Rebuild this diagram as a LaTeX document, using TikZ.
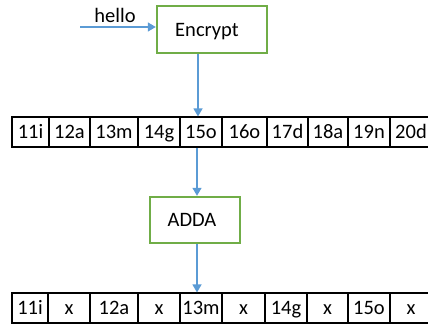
\documentclass[tikz,border=0pt]{standalone}
\usepackage{fontspec}
\setmainfont{Carlito}
\usetikzlibrary{arrows.meta,calc}
\definecolor{boxgreen}{RGB}{112,173,71}
\definecolor{arrblue}{RGB}{91,155,213}
\tikzset{
  procbox/.style={draw=boxgreen,line width=2.4pt,fill=white,inner sep=0pt,text height=13.2pt,text depth=0pt,font=\fontsize{20.5}{24}\selectfont},
  cell/.style={draw=black,line width=1.1pt,inner sep=0pt,text height=13.2pt,text depth=0pt,font=\fontsize{20.5}{24}\selectfont},
  flow/.style={draw=arrblue,line width=1.3pt,-{Triangle[width=9pt,length=8pt]}},
  lbl/.style={inner sep=0pt,font=\fontsize{20.5}{24}\selectfont}
}
\begin{document}
\begin{tikzpicture}[x=1pt,y=-1pt]
\useasboundingbox (0,0) rectangle (428,326);
\clip (0,0) rectangle (428,326);
% process boxes
\node[procbox,minimum width=110pt,minimum height=47pt] (enc) at (212,29.5) {\hspace*{-10pt}Encrypt};
\node[procbox,minimum width=90pt,minimum height=46pt] (adda) at (195,220) {\hspace*{-6pt}ADDA};
\node[lbl] (hello) at (115,15) {hello};
\coordinate (hstart) at (80,27);
\draw[flow] (hstart) -- (hstart -| enc.west);
% row 1
\def\rowA{12/49/11i/1,49/90/12a/2,90/138/13m/3,138/180/14g/4,180/222/15o/5,222/267/16o/6,267/308/17d/7,308/348/18a/8,348/390/19n/9,390/432/20d/10}
\foreach \a/\b/\t/\i in \rowA {
  \node[cell,minimum width={(\b-\a)*1pt},minimum height=30pt] (ra\i) at ({(\a+\b)/2},132) {\t};
}
% row 2
\def\rowB{12/48/11i/1,48/90/x/2,90/138/12a/3,138/180/x/4,180/222/13m/5,222/265/x/6,265/307/14g/7,307/348/x/8,348/390/15o/9,390/432/x/10}
\foreach \a/\b/\t/\i in \rowB {
  \node[cell,minimum width={(\b-\a)*1pt},minimum height=30pt] (rb\i) at ({(\a+\b)/2},308) {\t};
}
\coordinate (c1) at (198,0);
\coordinate (c2) at (197,0);
\draw[flow] (enc.south -| c1) -- (ra5.north -| c1);
\draw[flow] (ra5.south -| c2) -- (adda.north -| c2);
\draw[flow] (adda.south -| c2) -- (rb5.north -| c2);
\end{tikzpicture}
\end{document}
